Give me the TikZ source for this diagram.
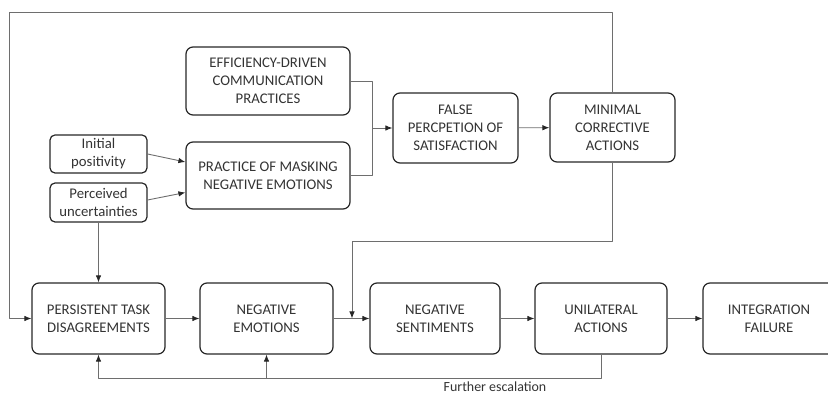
\documentclass[tikz,border=0pt]{standalone}
\usepackage{fontspec}
\setmainfont{Carlito}
\usetikzlibrary{arrows.meta}
\definecolor{boxcol}{HTML}{262626}
\definecolor{linecol}{HTML}{6E6E6E}
\definecolor{textcol}{HTML}{333333}
\tikzset{
  stepbox/.style={draw=boxcol,line width=1.2bp,rounded corners=7bp,align=center,text=textcol,
    font=\fontsize{14.8}{18}\selectfont,inner sep=2bp},
  smallbox/.style={stepbox,rounded corners=5bp},
  flow/.style={draw=linecol,line width=0.9bp},
}
\begin{document}
\begin{tikzpicture}[>={Latex[length=7bp,width=5.5bp,color=boxcol]},line join=bevel,]
        \useasboundingbox (0bp,0bp) rectangle (828bp,393bp);
        %%
        \node (node_efficiency) at (268bp,312bp) [stepbox,minimum width=164bp,minimum height=68bp] {EFFICIENCY-DRIVEN\\COMMUNICATION\\PRACTICES};
          \node (node_masking) at (268bp,217.5bp) [stepbox,minimum width=164bp,minimum height=67bp] {PRACTICE OF MASKING\\NEGATIVE EMOTIONS};
          \node (node_initial) at (98.5bp,239bp) [smallbox,minimum width=97bp,minimum height=38bp] {Initial\\positivity};
          \node (node_perceived) at (98.5bp,190.5bp) [smallbox,minimum width=97bp,minimum height=39bp] {Perceived\\uncertainties};
          \node (node_false) at (455.5bp,265bp) [stepbox,minimum width=125bp,minimum height=70bp] {FALSE\\PERCPETION OF\\SATISFACTION};
          \node (node_minimal) at (612.5bp,265.5bp) [stepbox,minimum width=125bp,minimum height=69bp] {MINIMAL\\CORRECTIVE\\ACTIONS};
          \node (node_tasks) at (98.5bp,74.5bp) [stepbox,minimum width=133bp,minimum height=71bp] {PERSISTENT TASK\\DISAGREEMENTS};
          \node (node_emotions) at (266.5bp,74.5bp) [stepbox,minimum width=133bp,minimum height=71bp] {NEGATIVE\\EMOTIONS};
          \node (node_sentiments) at (435bp,74.5bp) [stepbox,minimum width=130bp,minimum height=71bp] {NEGATIVE\\SENTIMENTS};
          \node (node_unilateral) at (601bp,74.5bp) [stepbox,minimum width=132bp,minimum height=71bp] {UNILATERAL\\ACTIONS};
          \node (node_failure) at (769bp,74.5bp) [stepbox,minimum width=132bp,minimum height=71bp] {INTEGRATION\\FAILURE};
          \coordinate (join_0) at (372bp,265bp);
          \coordinate (corner_0) at (9bp,381bp);
          \coordinate (corner_1) at (352bp,152bp);
          \coordinate (merge_0) at (352bp,74.5bp);
          \coordinate (corner_2) at (98.5bp,15bp);
          \coordinate (fork_0) at (266.5bp,15bp);
          \draw [flow] (node_efficiency.east) -| (join_0);
          \draw [flow] (node_masking.east) -| (join_0);
          \draw [flow,->] (join_0) -- (node_false);
          \draw [flow,->] (node_false) -- (node_minimal);
          \draw [flow,->] (node_minimal.north) |- (corner_0) |- (node_tasks.west);
          \draw [flow,->] (node_minimal.south) |- (corner_1) -- (merge_0);
          \draw [flow,->] (node_initial.east) -- ([yshift=13.5bp]node_masking.west);
          \draw [flow,->] ([yshift=2.5bp]node_perceived.east) -- ([yshift=-17bp]node_masking.west);
          \draw [flow,->] (node_perceived) -- (node_tasks);
          \draw [flow,->] (node_tasks) -- (node_emotions);
          \draw [flow,->] (node_emotions) -- (node_sentiments);
          \draw [flow,->] (node_sentiments) -- (node_unilateral);
          \draw [flow,->] (node_unilateral) -- (node_failure);
          \draw [flow,->] (node_unilateral.south) |- (corner_2) -- (node_tasks.south);
          \draw [flow,->] (fork_0) -- (node_emotions.south);
          \draw (495bp,2bp) node [anchor=base,inner sep=0pt,text=textcol,font=\fontsize{14}{16}\selectfont] {Further escalation};
        %
        \end{tikzpicture}
\end{document}
